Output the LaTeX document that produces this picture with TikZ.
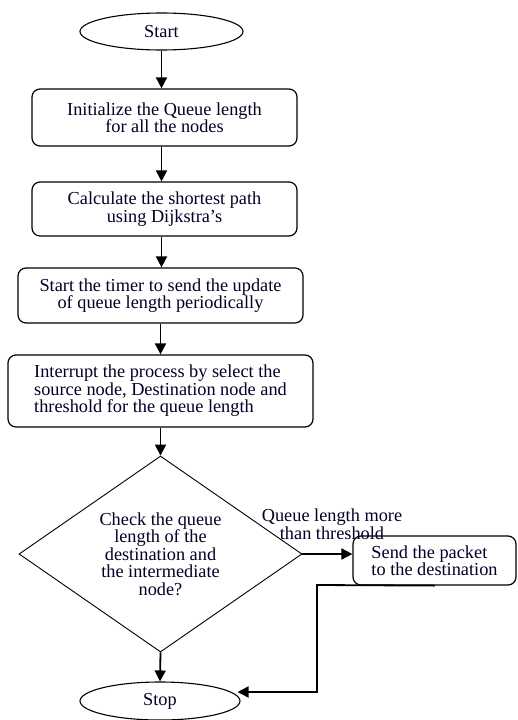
\documentclass[tikz,border=0pt]{standalone}
\usepackage{fontspec}
\setmainfont{Liberation Serif}
\usetikzlibrary{shapes.geometric,arrows.meta}
\begin{document}
\begin{tikzpicture}[x=1pt,y=-1pt,
  txt/.style={font=\fontsize{18.3}{17.5}\selectfont, text=black!85!blue},
  procbox/.style={txt, draw, line width=1.2pt, rounded corners=8pt, align=center, inner sep=0pt},
  term/.style={txt, draw, line width=1.1pt, ellipse, inner sep=0pt},
  decide/.style={txt, draw, line width=0.9pt, diamond, aspect=1.44, inner sep=0pt, align=center},
  arr/.style={line width=1.8pt, -{Triangle[length=11pt,width=11pt]}}
]
\clip (0,0) rectangle (517,720);
\fill[white] (0,0) rectangle (517,720);

\node[term, minimum width=163pt, minimum height=37pt] (start) at (161.5,31.5) {Start};
\node[procbox, minimum width=265pt, minimum height=57pt] (b1) at (164.5,117.5)
  {Initialize the Queue length\\for all the nodes};
\node[procbox, minimum width=265pt, minimum height=54pt] (b2) at (164.5,209)
  {Calculate the shortest path\\using Dijkstra's};
\node[procbox, minimum width=285pt, minimum height=55pt] (b3) at (160.5,295.5)
  {Start the timer to send the update\\of queue length periodically};
\node[procbox, minimum width=305pt, minimum height=72pt, align=left] (b4) at (160.5,391)
  {Interrupt the process by select the\\source node, Destination node and\\threshold for the queue length};
\node[decide, minimum width=283pt, minimum height=196pt] (dec) at (160.5,554)
  {Check the queue\\length of the\\destination and\\the intermediate\\node?};
\node[procbox, minimum width=163pt, minimum height=49pt, align=left] (send) at (434.5,560.5)
  {Send the packet\\to the destination};
\node[term, minimum width=160pt, minimum height=38pt] (stop) at (160,701) {Stop};
\node[txt, align=center, inner sep=0pt] (lbl) at (332,524) {Queue length more\\than threshold};

\coordinate (c1) at (317,585);
\coordinate (c2) at (317,692);

\draw[arr] (start.south) -- (start.south |- b1.north);
\draw[arr] (start.south |- b1.south) -- (start.south |- b2.north);
\draw[arr] (start.south |- b2.south) -- (start.south |- b3.north);
\draw[arr] (b3.south) -- (b4.north);
\draw[arr] (b4.south) -- (dec.north);
\draw[arr] (dec.south) -- (stop.north);
\draw[arr] (dec.east) -- (dec.east -| send.west);
\draw[arr] (send.south) -- (c1) -- (c2) -- ([xshift=-3pt]c2 -| stop.east);
\end{tikzpicture}
\end{document}
